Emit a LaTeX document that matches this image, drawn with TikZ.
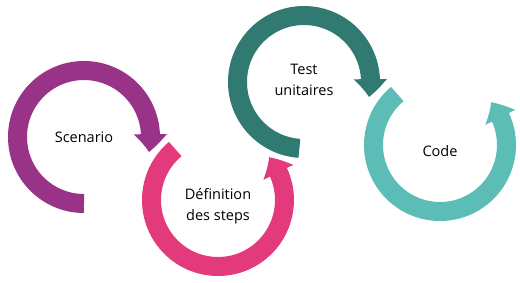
\documentclass[tikz,border=0pt]{standalone}
\usepackage{fontspec}
\setmainfont{Open Sans}
\usetikzlibrary{arrows.meta,bending}
\definecolor{scenariocol}{HTML}{993387}
\definecolor{stepscol}{HTML}{E33A7C}
\definecolor{testcol}{HTML}{307A72}
\definecolor{codecol}{HTML}{5CBDB6}
\tikzset{
    ringlabel/.style={align=center, font=\fontsize{14.5}{21}\selectfont, inner sep=0pt},
    ringarrow/.style={line width=19pt, -{Triangle[width=32pt, length=18pt, bend]}}
}

\begin{document}
\begin{tikzpicture}[x=1pt, y=1pt]
\useasboundingbox (0,0) rectangle (520,282);
\coordinate (scenarioc) at (84,145);
\coordinate (stepsc) at (218,82);
\coordinate (testc) at (304,200);
\coordinate (codec) at (440,137);
\node[ringlabel] (scenario) at (scenarioc) {Scenario};
\node[ringlabel, yshift=-6pt] (steps) at (stepsc) {Définition\\des steps};
\node[ringlabel, yshift=2pt] (test) at (testc) {Test\\unitaires};
\node[ringlabel, yshift=-6pt] (code) at (codec) {Code};
\draw[ringarrow, scenariocol] ([shift={(270:66.5)}]scenarioc) arc[start angle=270, end angle=-13, radius=66.5];
\draw[ringarrow, stepscol] ([shift={(130:66.5)}]stepsc) arc[start angle=130, end angle=400, radius=66.5];
\draw[ringarrow, testcol] ([shift={(266:66.5)}]testc) arc[start angle=266, end angle=-13, radius=66.5];
\draw[ringarrow, codecol] ([shift={(130:66.5)}]codec) arc[start angle=130, end angle=400, radius=66.5];
\end{tikzpicture}
\end{document}
